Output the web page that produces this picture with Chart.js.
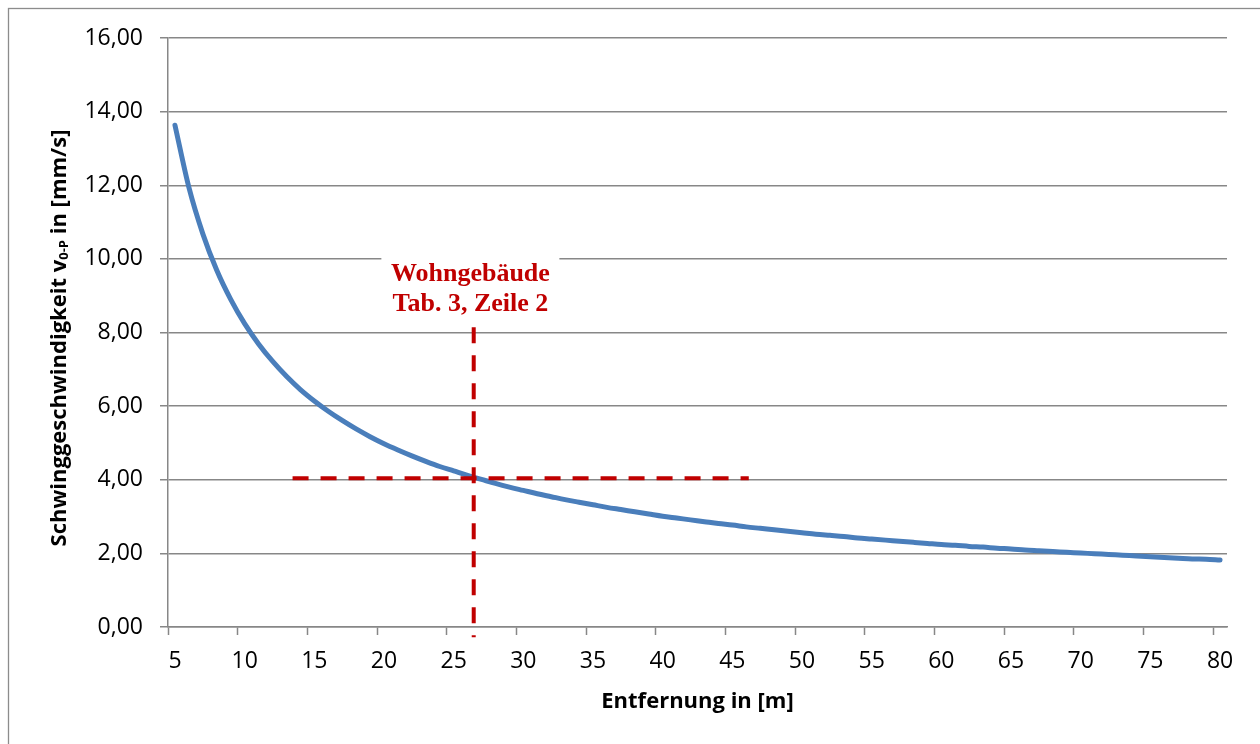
<!DOCTYPE html>
<html>
<head>
<meta charset="utf-8">
<script src="https://cdn.jsdelivr.net/npm/chart.js@4.4.1/dist/chart.umd.min.js"></script>
<style>
html, body { margin: 0; padding: 0; background: #fff; }
#wrap { width: 1260px; height: 744px; }
</style>
</head>
<body>
<div id="wrap"><canvas id="myChart" width="1260" height="744"></canvas></div>
<script>
'use strict';

// Entfernung in m (one category per metre)
var distances = [5, 6, 7, 8, 9, 10, 11, 12, 13, 14, 15, 16, 17, 18, 19, 20,
    21, 22, 23, 24, 25, 26, 27, 28, 29, 30, 31, 32, 33, 34, 35, 36, 37, 38, 39, 40,
    41, 42, 43, 44, 45, 46, 47, 48, 49, 50, 51, 52, 53, 54, 55, 56, 57, 58, 59, 60,
    61, 62, 63, 64, 65, 66, 67, 68, 69, 70, 71, 72, 73, 74, 75, 76, 77, 78, 79, 80];

// Schwinggeschwindigkeit v0-P in mm/s
var velocities = [13.63, 11.94, 10.68, 9.69, 8.90, 8.24, 7.69, 7.22, 6.81, 6.45, 6.14, 5.86,
    5.61, 5.38, 5.17, 4.98, 4.81, 4.65, 4.50, 4.36, 4.24, 4.12, 4.01, 3.90, 3.80, 3.71,
    3.62, 3.54, 3.46, 3.39, 3.32, 3.25, 3.19, 3.13, 3.07, 3.01, 2.96, 2.91, 2.86, 2.81,
    2.77, 2.72, 2.68, 2.64, 2.60, 2.56, 2.52, 2.49, 2.46, 2.42, 2.39, 2.36, 2.33, 2.30,
    2.27, 2.24, 2.22, 2.19, 2.17, 2.14, 2.12, 2.09, 2.07, 2.05, 2.03, 2.01, 1.99, 1.97,
    1.95, 1.93, 1.91, 1.89, 1.87, 1.85, 1.84, 1.82];

// reference marker (Wohngebaeude, Tab. 3, Zeile 2)
var refDistance = 26.44;
var refVelocity = 4.04;
var refSpanX = [13.44, 46.18];
var refSpanY = [8.14, -0.28];
var noteLines = ['Wohngebäude', 'Tab. 3, Zeile 2'];
var noteAt = [26.2, 9.2];

var gridColor = '#878787';
var red = '#C00000';

var framePlugin = {
    id: 'frame',
    beforeDraw: function (chart) {
        var ctx = chart.ctx;
        ctx.save();
        ctx.fillStyle = '#fff';
        ctx.fillRect(0, 0, chart.width, chart.height);
        ctx.strokeStyle = '#8c8c8c';
        ctx.lineWidth = 1.3;
        ctx.strokeRect(8.5, 8.5, chart.width + 50, chart.height + 50);
        ctx.restore();
    }
};

var yTitlePlugin = {
    id: 'yTitle',
    afterDraw: function (chart) {
        var ctx = chart.ctx;
        var parts = [
            {text: 'Schwinggeschwindigkeit v', size: 22, shift: 0},
            {text: '0-P', size: 13, shift: 4},
            {text: ' in [mm/s]', size: 22, shift: 0}
        ];
        var total = 0;
        ctx.save();
        parts.forEach(function (p) {
            ctx.font = 'bold ' + p.size + 'px "Open Sans"';
            p.w = ctx.measureText(p.text).width;
            total += p.w;
        });
        ctx.translate(60, 338);
        ctx.rotate(-Math.PI / 2);
        ctx.fillStyle = '#000';
        ctx.textBaseline = 'middle';
        ctx.textAlign = 'left';
        var x = -total / 2;
        parts.forEach(function (p) {
            ctx.font = 'bold ' + p.size + 'px "Open Sans"';
            ctx.fillText(p.text, x, p.shift);
            x += p.w;
        });
        ctx.restore();
    }
};

var notePlugin = {
    id: 'note',
    afterDraw: function (chart) {
        var ctx = chart.ctx;
        var cx = chart.scales.x2.getPixelForValue(noteAt[0]);
        var cy = chart.scales.y.getPixelForValue(noteAt[1]);
        ctx.save();
        ctx.fillStyle = '#fff';
        ctx.fillRect(cx - 89, cy - 32, 178, 62);
        ctx.fillStyle = red;
        ctx.font = 'bold 26px "Liberation Serif"';
        ctx.textAlign = 'center';
        ctx.textBaseline = 'middle';
        ctx.fillText(noteLines[0], cx, cy - 14);
        ctx.fillText(noteLines[1], cx, cy + 16);
        ctx.restore();
    }
};

var ctx = document.getElementById('myChart').getContext('2d');
var myChart = new Chart(ctx, {
    type: 'line',
    data: {
        labels: distances,
        datasets: [{
            data: [{x: refDistance, y: refSpanY[0]}, {x: refDistance, y: refSpanY[1]}],
            xAxisID: 'x2',
            yAxisID: 'y',
            borderColor: red,
            borderWidth: 4,
            borderDash: [16, 12],
            pointRadius: 0,
            clip: false,
            order: 0
        }, {
            data: [{x: refSpanX[0], y: refVelocity}, {x: refSpanX[1], y: refVelocity}],
            xAxisID: 'x2',
            yAxisID: 'y',
            borderColor: red,
            borderWidth: 4,
            borderDash: [16, 12],
            pointRadius: 0,
            clip: false,
            order: 1
        }, {
            data: velocities,
            xAxisID: 'x',
            yAxisID: 'y',
            borderColor: '#4A7EBB',
            borderWidth: 5,
            borderCapStyle: 'round',
            borderJoinStyle: 'round',
            pointRadius: 0,
            cubicInterpolationMode: 'monotone',
            order: 2
        }]
    },
    options: {
        responsive: false,
        animation: false,
        devicePixelRatio: 1,
        layout: {
            padding: {top: 38, right: 33, bottom: 29, left: 0}
        },
        plugins: {
            legend: {display: false},
            tooltip: {enabled: false}
        },
        scales: {
            x: {
                type: 'category',
                offset: true,
                grid: {
                    offset: true,
                    drawOnChartArea: false,
                    drawTicks: true,
                    tickLength: 8,
                    tickWidth: 1.5,
                    color: gridColor,
                    tickColor: function (c) {
                        return c.index % 5 === 0 ? gridColor : 'rgba(0,0,0,0)';
                    }
                },
                border: {display: true, color: gridColor, width: 1.5},
                ticks: {
                    autoSkip: false,
                    maxRotation: 0,
                    minRotation: 0,
                    padding: 13,
                    color: '#000',
                    font: {family: 'Open Sans', size: 23},
                    callback: function (value, index) {
                        var d = distances[index];
                        return d % 5 === 0 ? String(d) : '';
                    }
                },
                title: {
                    display: true,
                    text: 'Entfernung in [m]',
                    color: '#000',
                    padding: 0,
                    font: {family: 'Open Sans', size: 22, weight: 'bold'}
                },
                afterFit: function (s) { s.height = 88; }
            },
            x2: {
                type: 'linear',
                display: false,
                min: 4.5,
                max: 80.5
            },
            y: {
                min: 0,
                max: 16,
                ticks: {
                    stepSize: 2,
                    padding: 17,
                    color: '#000',
                    font: {family: 'Open Sans', size: 23},
                    callback: function (v) { return v.toFixed(2).replace('.', ','); }
                },
                grid: {color: gridColor, lineWidth: 1.5, tickLength: 8, drawTicks: true},
                border: {display: true, color: gridColor, width: 1.5},
                afterFit: function (s) { s.width = 168; }
            }
        }
    },
    plugins: [framePlugin, yTitlePlugin, notePlugin]
});
</script>
</body>
</html>
